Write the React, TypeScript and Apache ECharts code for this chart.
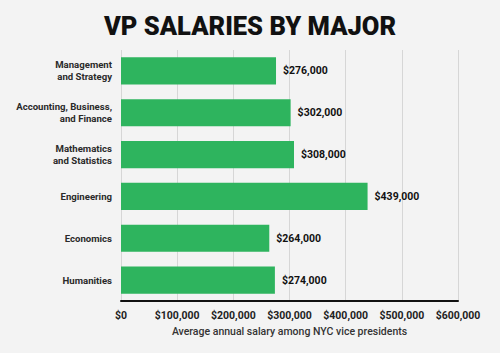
import React, { useEffect, useRef } from "react";
import * as echarts from "echarts";

const categories = [
  "Management\nand Strategy",
  "Accounting, Business,\nand Finance",
  "Mathematics\nand Statistics",
  "Engineering",
  "Economics",
  "Humanities",
];
const salaries = [276000, 302000, 308000, 439000, 264000, 274000];
const titleText = "VP SALARIES BY MAJOR";
const axisTitle = "Average annual salary among NYC vice presidents";

const fmt = (v: number) => "$" + v.toLocaleString("en-US");

export default function App() {
  const ref = useRef<HTMLDivElement>(null);
  useEffect(() => {
    const chart = echarts.init(ref.current!, null, { renderer: "svg" });
    chart.setOption({
      animation: false,
      backgroundColor: "#f3f3f3",
      title: {
        text: titleText,
        left: "center",
        top: 8,
        textStyle: {
          fontFamily: "Roboto",
          fontWeight: 900,
          fontSize: 25.5,
          color: "#111",
        },
      },
      grid: { left: 121, right: 42, top: 50, bottom: 52 },
      xAxis: {
        type: "value",
        min: 0,
        max: 600000,
        interval: 100000,
        name: axisTitle,
        nameLocation: "middle",
        nameGap: 24,
        nameTextStyle: {
          fontFamily: "Roboto",
          fontWeight: 500,
          fontSize: 10.5,
          color: "#333",
        },
        axisLine: { show: true, onZero: false, lineStyle: { color: "#111", width: 2 } },
        axisTick: { show: false },
        axisLabel: {
          formatter: (v: number) => fmt(v),
          fontFamily: "Roboto",
          fontWeight: "bold",
          fontSize: 10.5,
          color: "#222",
          margin: 9,
        },
        splitLine: { show: true, lineStyle: { color: "#d6d6d6", width: 1 } },
      },
      yAxis: {
        type: "category",
        data: categories,
        inverse: true,
        axisLine: { show: false },
        axisTick: { show: false },
        axisLabel: {
          fontFamily: "Roboto",
          fontWeight: "bold",
          fontSize: 9.6,
          color: "#2a2a2a",
          margin: 9,
          lineHeight: 12,
          align: "right",
        },
      },
      series: [
        {
          type: "bar",
          data: salaries,
          barCategoryGap: "35%",
          itemStyle: { color: "#2eb45e" },
          label: {
            show: true,
            position: "right",
            distance: 7,
            formatter: (p: any) => fmt(p.value),
            fontFamily: "Roboto",
            fontWeight: "bold",
            fontSize: 10.5,
            color: "#111",
          },
        },
      ],
    });
    return () => chart.dispose();
  }, []);
  return (
    <div
      ref={ref}
      style={{ position: "fixed", left: 0, top: 0, width: 500, height: 353 }}
    />
  );
}
